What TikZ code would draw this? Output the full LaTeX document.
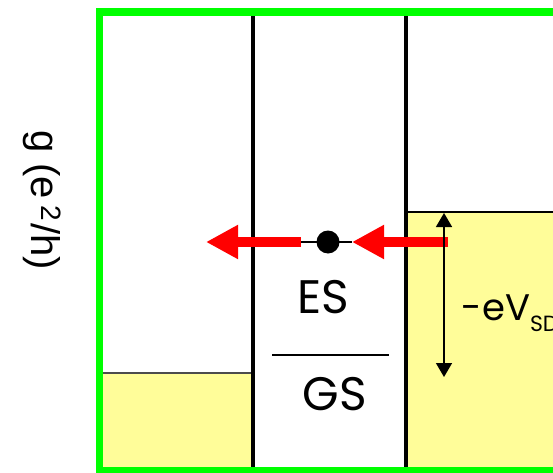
\documentclass[tikz,border=0pt]{standalone}
\usepackage{fontspec}
\setmainfont{Poppins}
\newfontfamily\arialfont{Liberation Sans}
\usetikzlibrary{arrows.meta}
\definecolor{framegreen}{RGB}{0,255,0}
\definecolor{leadyellow}{RGB}{255,253,153}
\definecolor{arrowred}{RGB}{255,0,0}
\tikzset{
  lead/.style={fill=leadyellow,draw=none},
  barrier/.style={line width=4pt,black},
  redarrow/.style={draw=arrowred,line width=10pt,-{Triangle[length=32pt,width=32pt]}},
  biasarrow/.style={line width=1.5pt,{Triangle[length=14pt,width=16pt]}-{Triangle[length=14pt,width=16pt]}},
  lbl/.style={inner sep=0pt,outer sep=0pt}
}
\begin{document}
\begin{tikzpicture}[x=1pt,y=1pt]
\useasboundingbox (0,0) rectangle (553,472);
\begin{scope}
\clip (0,0) rectangle (553,472);
% leads
\fill[lead] (103,5) rectangle (251,99);
\draw[line width=1.2pt,black!70] (103,99) -- (251,99);
\fill[lead] (408,5) rectangle (560,260);
\draw[line width=1.2pt,black] (408,260) -- (560,260);
% barriers
\draw[barrier] (253,5) -- (253,456);
\draw[barrier] (406,5) -- (406,456);
% frame
\draw[framegreen,line width=7.5pt] (99.5,1) rectangle (565,460);
\end{scope}
% dot level line
\coordinate (la) at (301,230);
\coordinate (lt) at (206,230);
\coordinate (ra) at (448,230);
\coordinate (rt) at (352,230);
\draw[line width=1.5pt] (la) -- (rt);
\node[circle,fill=black,minimum size=23pt,inner sep=0pt] (dot) at (328,230) {};
\draw[redarrow] (la) -- (lt);
\draw[redarrow] (ra) -- (rt);
% bias arrow
\coordinate (bt) at (444,259);
\coordinate (bb) at (444,95);
\draw[biasarrow] (bt) -- (bb);
% ES / GS
\coordinate (sl) at (272,117);
\coordinate (sr) at (389,117);
\draw[line width=1.5pt] (sl) -- (sr);
\node[lbl,anchor=base,font=\fontsize{47}{50}\selectfont] (es) at (323.5,159) {ES};
\node[lbl,anchor=base,font=\fontsize{47}{50}\selectfont] (gs) at (334.6,62) {GS};
\node[lbl,anchor=base west] (vsd) at (461.7,152) {\fontsize{37}{40}\selectfont -eV\raisebox{-11pt}{\fontsize{22}{24}\selectfont SD}};
% axis label
\node[lbl,rotate=-90,anchor=base,font=\arialfont\fontsize{40}{48}\selectfont] (ylab) at (32,272) {g (e\hspace{6pt}\textsuperscript{2}\hspace{2pt}/h)};
\end{tikzpicture}
\end{document}
